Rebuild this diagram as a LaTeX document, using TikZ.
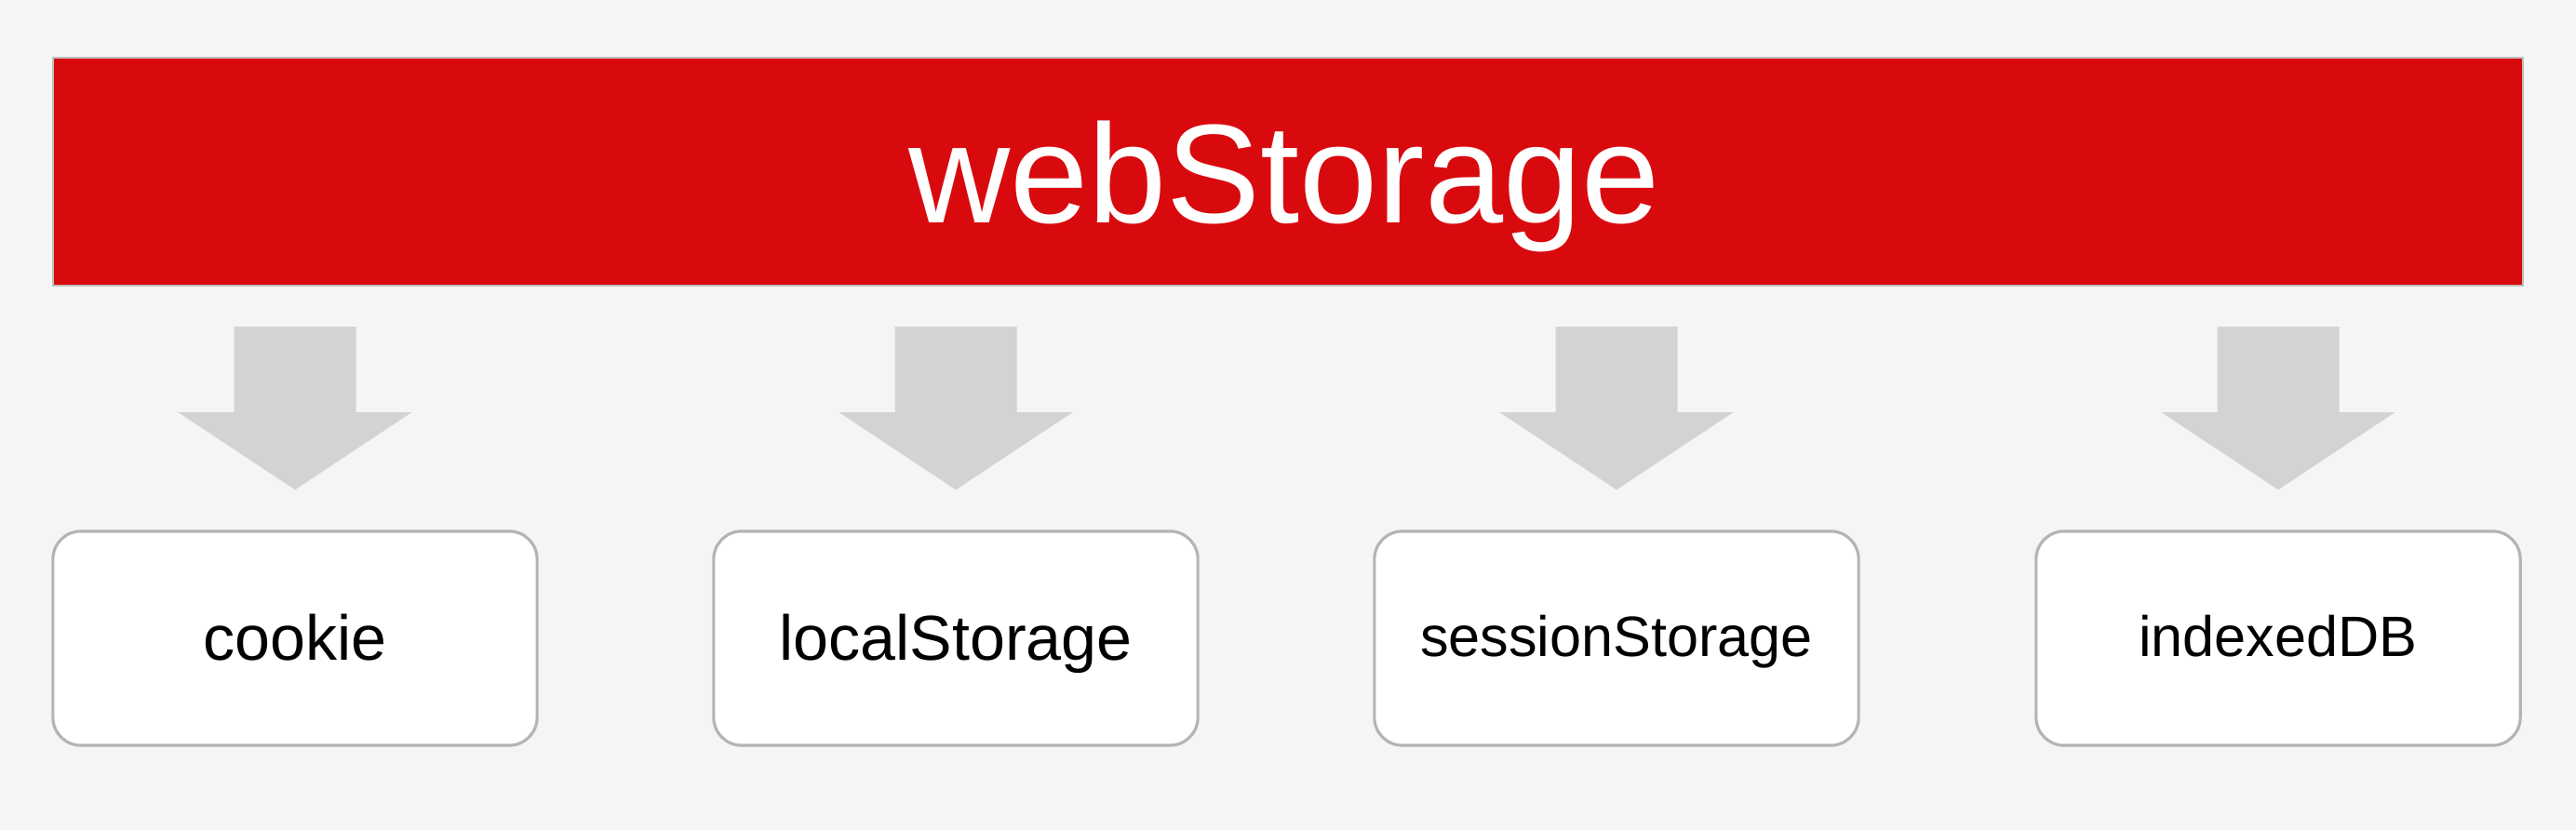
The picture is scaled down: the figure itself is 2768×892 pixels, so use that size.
\documentclass[tikz,border=0pt]{standalone}
\usepackage{fontspec}
\setmainfont{Liberation Sans}
\usetikzlibrary{calc}
\definecolor{barred}{RGB}{217,10,14}
\definecolor{bggrey}{RGB}{245,245,245}
\definecolor{arrowgrey}{RGB}{211,211,211}
\definecolor{boxline}{RGB}{180,180,180}
\begin{document}
\begin{tikzpicture}[x=0.01cm,y=-0.01cm,
  bar/.style={rectangle,fill=barred,draw=black!25,line width=0.6pt,minimum width=26.52cm,minimum height=2.45cm,inner sep=0pt},
  titletext/.style={text=white,font=\fontsize{43}{48}\selectfont,anchor=base,inner sep=0pt},
  itembox/.style={rectangle,rounded corners=0.3cm,fill=white,draw=boxline,line width=0.9pt,minimum width=5.2cm,minimum height=2.3cm,inner sep=0pt},
  itemtext/.style={font=\fontsize{19.4}{22}\selectfont,anchor=base,inner sep=0pt},
  smalltext/.style={font=\fontsize{17.4}{20}\selectfont,anchor=base,inner sep=0pt},
  blockarrow/.style={fill=arrowgrey,draw=none}]
\fill[bggrey] (0,0) rectangle (2768,892);
\useasboundingbox (0,0) rectangle (2768,892);
\node[bar] (web) at (1384,184.5) {};
\node[titletext] (webtitle) at (1380,240) {webStorage};
\node[itembox] (b1) at (317,686) {};
\node[itembox] (b2) at (1027,686) {};
\node[itembox] (b3) at (1737,686) {};
\node[itembox] (b4) at (2448,686) {};
\node[itemtext] (t1) at (317,710) {cookie};
\node[itemtext] (t2) at (1027,710) {localStorage};
\node[smalltext] (t3) at (1737,706) {sessionStorage};
\node[smalltext] (t4) at (2448,706) {indexedDB};
\foreach \b in {b1,b2,b3,b4}{
  \fill[blockarrow]
    ($(web.south -| \b.north)+(-65.5,43)$) --
    ($(web.south -| \b.north)+(65.5,43)$) --
    ($(web.south -| \b.north)+(65.5,135)$) --
    ($(web.south -| \b.north)+(125.5,135)$) --
    ($(\b.north)+(0,-43)$) --
    ($(web.south -| \b.north)+(-125.5,135)$) --
    ($(web.south -| \b.north)+(-65.5,135)$) -- cycle;
}
\end{tikzpicture}
\end{document}
